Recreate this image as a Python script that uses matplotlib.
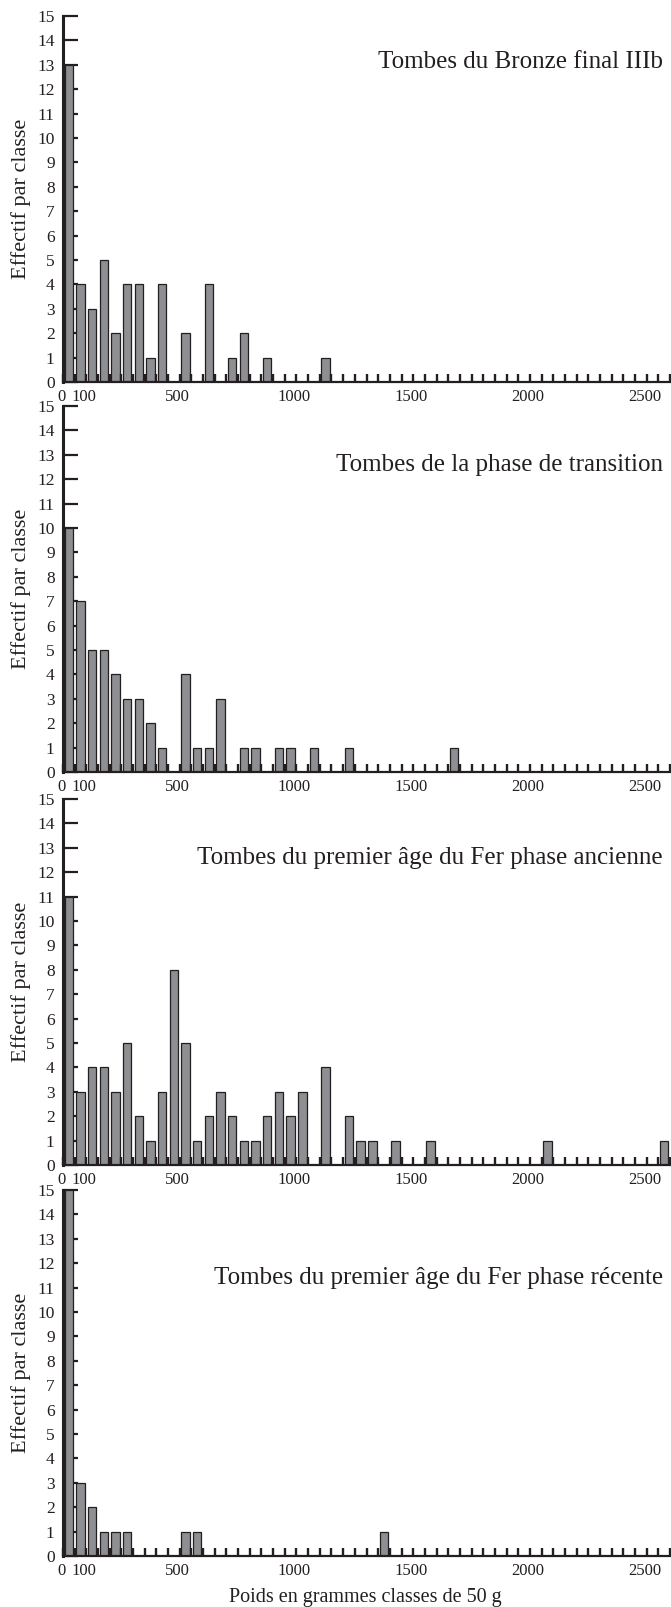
import numpy as np
import matplotlib
matplotlib.use('Agg')
import matplotlib.pyplot as plt
import matplotlib.transforms as mtransforms

plt.rcParams['font.family'] = ['Liberation Serif', 'DejaVu Serif']
plt.rcParams['text.color'] = '#231f20'
plt.rcParams['axes.labelcolor'] = '#231f20'

# classes de 50 g : borne inferieure de la classe (g) et effectif
bronze_poids = [0, 50, 100, 150, 200, 250, 300, 350, 400, 500, 600, 700, 750, 850, 1100]
bronze_effectif = [13, 4, 3, 5, 2, 4, 4, 1, 4, 2, 4, 1, 2, 1, 1]

transition_poids = [0, 50, 100, 150, 200, 250, 300, 350, 400, 500, 550, 600, 650,
                    750, 800, 900, 950, 1050, 1200, 1650]
transition_effectif = [10, 7, 5, 5, 4, 3, 3, 2, 1, 4, 1, 1, 3, 1, 1, 1, 1, 1, 1, 1]

ancienne_poids = [0, 50, 100, 150, 200, 250, 300, 350, 400, 450, 500, 550, 600, 650,
                  700, 750, 800, 850, 900, 950, 1000, 1100, 1200, 1250, 1300, 1400,
                  1550, 2050, 2550]
ancienne_effectif = [11, 3, 4, 4, 3, 5, 2, 1, 3, 8, 5, 1, 2, 3, 2, 1, 1, 2, 3, 2, 3,
                     4, 2, 1, 1, 1, 1, 1, 1]

recente_poids = [0, 50, 100, 150, 200, 250, 500, 550, 1350]
recente_effectif = [15, 3, 2, 1, 1, 1, 1, 1, 1]

titres = ['Tombes du Bronze final IIIb',
          'Tombes de la phase de transition',
          'Tombes du premier âge du Fer phase ancienne',
          'Tombes du premier âge du Fer phase récente']
titre_y = [13.1, 12.6, 12.6, 11.4]

x_labels_pos = [0, 100, 500, 1000, 1500, 2000, 2500]
classe = 50
x_max = 2600

series = [(bronze_poids, bronze_effectif),
          (transition_poids, transition_effectif),
          (ancienne_poids, ancienne_effectif),
          (recente_poids, recente_effectif)]

W, H = 671, 1607
fig = plt.figure(figsize=(W/100, H/100), dpi=100)

left = 63/W
width = 607/W
height = 366/H
bottoms_px = [382, 772, 1165, 1556]
ink = '#231f20'

for i, (poids, eff) in enumerate(series):
    ax = fig.add_axes([left, 1 - bottoms_px[i]/H, width, height])
    centres = np.array(poids) + classe/2
    ax.bar(centres, eff, width=classe*0.72, color='#8e8f92', edgecolor=ink,
           linewidth=0.9, zorder=1)
    ax.set_xlim(0, x_max)
    ax.set_ylim(0, 15)
    ax.set_yticks(np.arange(0, 16, 1))
    ax.set_xticks(x_labels_pos)
    ax.set_xticklabels([str(v) for v in x_labels_pos])
    ax.set_xticks(np.arange(0, x_max + 1, classe), minor=True)
    for s in ['top', 'right']:
        ax.spines[s].set_visible(False)
    ax.spines['left'].set_linewidth(2.2)
    ax.spines['bottom'].set_linewidth(1.6)
    ax.spines['left'].set_color(ink)
    ax.spines['bottom'].set_color(ink)
    ax.tick_params(axis='y', direction='in', length=10.5, width=1.6, color=ink,
                   labelsize=12.5, pad=6, labelcolor=ink)
    ax.tick_params(axis='x', which='both', direction='in', length=5.5, width=1.7,
                   color=ink, labelsize=12, pad=5, labelcolor=ink)
    # etiquettes x legerement decalees vers la gauche comme dans l'original
    shift = mtransforms.ScaledTranslation(-2/100, 0, fig.dpi_scale_trans)
    for lbl in ax.get_xticklabels():
        lbl.set_transform(lbl.get_transform() + shift)
    # barres au-dessus des graduations de l'axe y, graduations x au-dessus
    ax.yaxis.set_zorder(0.5)
    ax.xaxis.set_zorder(2.6)
    ax.set_ylabel('Effectif par classe', fontsize=16)
    ax.yaxis.set_label_coords(-0.052, 0.5)
    ax.text(0.988, titre_y[i], titres[i], transform=ax.get_yaxis_transform(),
            ha='right', va='center', fontsize=18)

fig.text(365/W, 0.0, 'Poids en grammes classes de 50 g', ha='center', va='bottom',
         fontsize=14.5)

fig.savefig('out.png', dpi=100)
